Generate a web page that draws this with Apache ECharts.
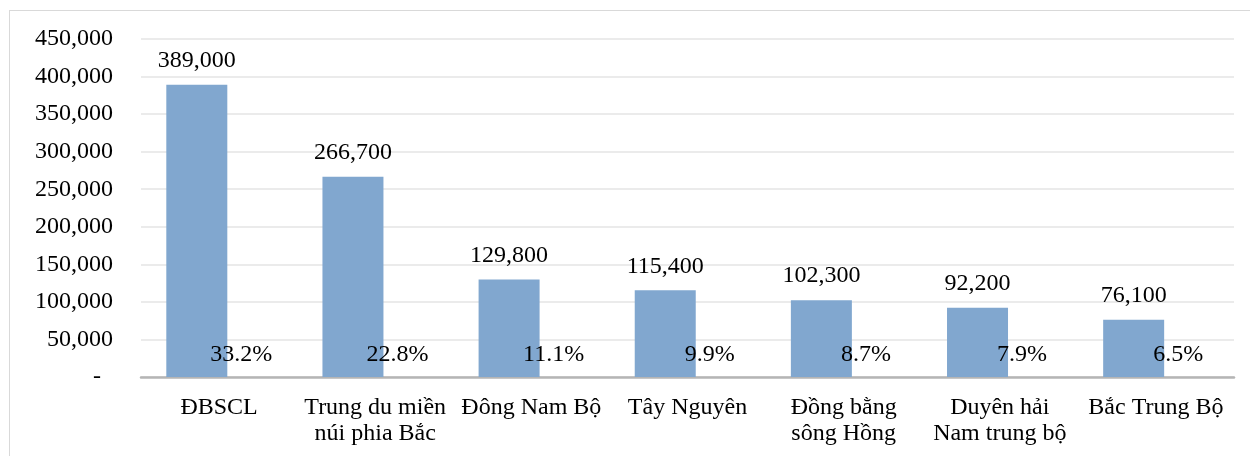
<html lang="vi">
<head>
	<meta charset="UTF-8">
	<script src="https://cdn.jsdelivr.net/npm/echarts@6/dist/echarts.min.js"></script>
	<title>Biểu đồ vùng</title>
</head>
<body style="margin:0;background:#fff">
<div id="khung" style="position:absolute;left:9px;top:10px;width:1260px;height:460px;border:1px solid #d9d9d9"></div>
<div id="pic" style="position:absolute;left:0;top:0;width:1250px;height:456px"></div>
</body>
<script>
	"use strict";

	const vung=["ĐBSCL","Trung du miền\nnúi phia Bắc","Đông Nam Bộ","Tây Nguyên","Đồng bằng\nsông Hồng","Duyên hải\nNam trung bộ","Bắc Trung Bộ"];
	const soLuong=[389000,266700,129800,115400,102300,92200,76100];
	const tyLe=[33.2,22.8,11.1,9.9,8.7,7.9,6.5];

	const font="'Liberation Serif','Times New Roman',serif";

	function so(v)
	{return v===0?"-  ":v.toLocaleString("en-US");}

	let pic=echarts.init(document.getElementById("pic"));
	let option=
		{
			animation:false,
			textStyle:{fontFamily:font},
			grid:{left:141,right:16,top:39,bottom:79},
			xAxis:{
				type:"category",
				data:vung,
				axisTick:{show:false},
				axisLine:{lineStyle:{color:"#b5b5b5",width:2.5}},
				axisLabel:{interval:0,color:"#000",fontSize:24,fontFamily:font,lineHeight:26,margin:18}
			},
			yAxis:{
				type:"value",
				min:0,max:450000,interval:50000,
				axisLabel:{formatter:so,color:"#000",fontSize:24,fontFamily:font,margin:28},
				splitLine:{lineStyle:{color:"#ebebeb",width:2}}
			},
			series:[
				{
					type:"bar",
					data:soLuong,
					barWidth:61,
					barGap:"-27%",
					itemStyle:{color:"#81a7cf"},
					label:{show:true,position:"top",distance:12,color:"#000",fontSize:24,fontFamily:font,formatter:p=>so(p.value)}
				},
				{
					type:"bar",
					data:tyLe,
					barWidth:61,
					itemStyle:{color:"rgba(0,0,0,0)"},
					label:{show:true,position:"top",distance:10,color:"#000",fontSize:24,fontFamily:font,formatter:p=>p.value.toFixed(1)+"%"}
				}
			]
		};
	pic.setOption(option);
</script>
</html>
